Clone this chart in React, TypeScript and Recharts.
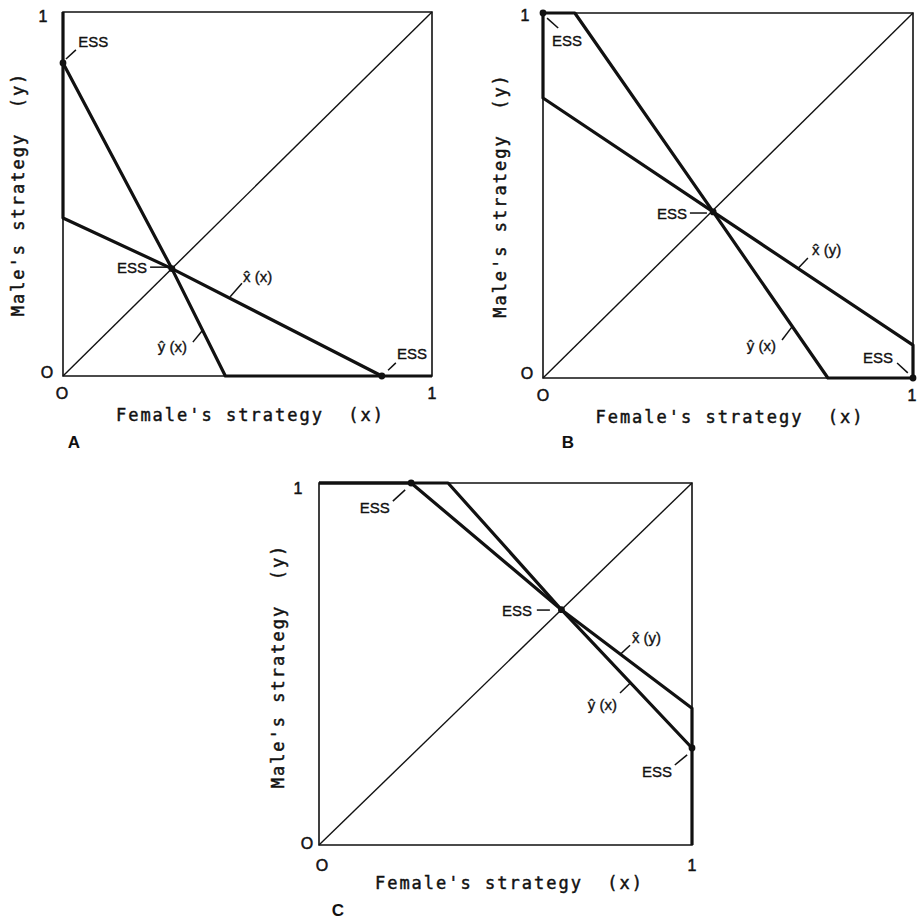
import React from 'react';
import { LineChart, Line, XAxis, YAxis, ReferenceArea, ReferenceLine, ReferenceDot } from 'recharts';

type Pt = { x: number; y: number };
type Note = { x: number; y: number; text: string; anchor: 'start' | 'middle' | 'end' };
type Seg = [Pt, Pt];

// Shared diagonal y = x
const diagonal: Pt[] = [{ x: 0, y: 0 }, { x: 1, y: 1 }];

// ---- Panel A ----
const aFemaleResponse: Pt[] = [{ x: 0, y: 1 }, { x: 0, y: 0.434 }, { x: 0.295, y: 0.295 }, { x: 0.864, y: 0 }];
const aMaleResponse: Pt[] = [{ x: 0, y: 0.86 }, { x: 0.295, y: 0.295 }, { x: 0.44, y: 0 }, { x: 1, y: 0 }];
const aEss: Pt[] = [{ x: 0, y: 0.86 }, { x: 0.295, y: 0.295 }, { x: 0.864, y: 0 }];
const aNotes: Note[] = [
  { x: 0.041, y: 0.918, text: 'ESS', anchor: 'start' },
  { x: 0.228, y: 0.299, text: 'ESS', anchor: 'end' },
  { x: 0.905, y: 0.063, text: 'ESS', anchor: 'start' },
  { x: 0.488, y: 0.272, text: 'x\u0302 (x)', anchor: 'start' },
  { x: 0.257, y: 0.08, text: 'ŷ (x)', anchor: 'start' },
];
const aLeaders: Seg[] = [
  [{ x: 0.008, y: 0.871 }, { x: 0.035, y: 0.896 }],
  [{ x: 0.236, y: 0.299 }, { x: 0.285, y: 0.299 }],
  [{ x: 0.881, y: 0.016 }, { x: 0.902, y: 0.036 }],
  [{ x: 0.453, y: 0.218 }, { x: 0.485, y: 0.255 }],
  [{ x: 0.352, y: 0.093 }, { x: 0.38, y: 0.128 }],
];

// ---- Panel B ----
const bFemaleResponse: Pt[] = [{ x: 0, y: 1 }, { x: 0, y: 0.767 }, { x: 0.46, y: 0.455 }, { x: 1, y: 0.09 }, { x: 1, y: 0 }];
const bMaleResponse: Pt[] = [{ x: 0, y: 1 }, { x: 0.086, y: 1 }, { x: 0.46, y: 0.455 }, { x: 0.77, y: 0 }, { x: 1, y: 0 }];
const bEss: Pt[] = [{ x: 0, y: 1 }, { x: 0.46, y: 0.455 }, { x: 1, y: 0 }];
const bNotes: Note[] = [
  { x: 0.024, y: 0.926, text: 'ESS', anchor: 'start' },
  { x: 0.389, y: 0.452, text: 'ESS', anchor: 'end' },
  { x: 0.727, y: 0.351, text: 'x\u0302 (y)', anchor: 'start' },
  { x: 0.551, y: 0.09, text: 'ŷ (x)', anchor: 'start' },
  { x: 0.865, y: 0.055, text: 'ESS', anchor: 'start' },
];
const bLeaders: Seg[] = [
  [{ x: 0.011, y: 0.986 }, { x: 0.041, y: 0.959 }],
  [{ x: 0.397, y: 0.452 }, { x: 0.443, y: 0.452 }],
  [{ x: 0.689, y: 0.3 }, { x: 0.716, y: 0.329 }],
  [{ x: 0.646, y: 0.104 }, { x: 0.673, y: 0.14 }],
  [{ x: 0.957, y: 0.041 }, { x: 0.986, y: 0.014 }],
];

// ---- Panel C ----
const cFemaleResponse: Pt[] = [{ x: 0, y: 1 }, { x: 0.247, y: 1 }, { x: 0.65, y: 0.65 }, { x: 1, y: 0.378 }, { x: 1, y: 0 }];
const cMaleResponse: Pt[] = [{ x: 0, y: 1 }, { x: 0.346, y: 1 }, { x: 0.65, y: 0.65 }, { x: 1, y: 0.268 }];
const cEss: Pt[] = [{ x: 0.247, y: 1 }, { x: 0.65, y: 0.65 }, { x: 1, y: 0.268 }];
const cNotes: Note[] = [
  { x: 0.19, y: 0.931, text: 'ESS', anchor: 'end' },
  { x: 0.571, y: 0.649, text: 'ESS', anchor: 'end' },
  { x: 0.839, y: 0.572, text: 'x\u0302 (y)', anchor: 'start' },
  { x: 0.799, y: 0.387, text: 'ŷ (x)', anchor: 'end' },
  { x: 0.866, y: 0.202, text: 'ESS', anchor: 'start' },
];
const cLeaders: Seg[] = [
  [{ x: 0.198, y: 0.95 }, { x: 0.231, y: 0.981 }],
  [{ x: 0.584, y: 0.649 }, { x: 0.619, y: 0.649 }],
  [{ x: 0.807, y: 0.526 }, { x: 0.834, y: 0.552 }],
  [{ x: 0.807, y: 0.42 }, { x: 0.834, y: 0.447 }],
  [{ x: 0.954, y: 0.221 }, { x: 0.987, y: 0.249 }],
];

const xTitle = "Female's strategy  (x)";
const yTitle = "Male's strategy  (y)";
const tickZero = 'O';
const tickOne = '1';

const INK = '#111';
const SANS = "'Liberation Sans', Arial, Helvetica, sans-serif";
const MONO = "'DejaVu Sans Mono', 'Liberation Mono', monospace";

type Offset = [number, number];
type Frame = {
  yOne: Offset; yZero: Offset; xZero: Offset; xOne: Offset;
  xTitleAt: Offset; yTitleAt: Offset; letterAt: Offset;
};

type PanelProps = {
  left: number; top: number; width: number; height: number;
  margin: { top: number; right: number; bottom: number; left: number };
  female: Pt[]; male: Pt[]; ess: Pt[]; notes: Note[]; leaders: Seg[];
  letter: string; frame: Frame;
};

const tickStyle = { fontFamily: SANS, fontSize: 16, stroke: INK, strokeWidth: 0.5 };
const titleStyle = { fontFamily: MONO, fontSize: 17, letterSpacing: 2, stroke: INK, strokeWidth: 0.45 };

function textAt(x: number, y: number, str: string, off: Offset, style: any, rotate = false) {
  return (
    <ReferenceDot
      x={x}
      y={y}
      r={0}
      shape={(p: any) => {
        const tx = p.cx + off[0];
        const ty = p.cy + off[1];
        return (
          <text
            x={tx}
            y={ty}
            textAnchor="middle"
            dominantBaseline="central"
            fill={INK}
            transform={rotate ? `rotate(-90 ${tx} ${ty})` : undefined}
            style={{ whiteSpace: 'pre' }}
            {...style}
          >
            {str}
          </text>
        );
      }}
    />
  );
}

function Panel(props: PanelProps) {
  const { left, top, width, height, margin, female, male, ess, notes, leaders, letter, frame } = props;
  return (
    <div style={{ position: 'absolute', left, top, width, height }}>
      <LineChart width={width} height={height} margin={margin}>
        <XAxis type="number" dataKey="x" domain={[0, 1]} hide />
        <YAxis type="number" dataKey="y" domain={[0, 1]} hide />
        <ReferenceArea x1={0} x2={1} y1={0} y2={1} fill="none" stroke={INK} strokeWidth={1.6} />
        <Line data={diagonal} dataKey="y" type="linear" stroke={INK} strokeWidth={1.4} dot={false} isAnimationActive={false} />
        <Line data={female} dataKey="y" type="linear" stroke={INK} strokeWidth={3.2} strokeLinejoin="round" dot={false} isAnimationActive={false} />
        <Line data={male} dataKey="y" type="linear" stroke={INK} strokeWidth={3.2} strokeLinejoin="round" dot={false} isAnimationActive={false} />
        {leaders.map((s, i) => (
          <ReferenceLine key={`l${i}`} segment={s} stroke={INK} strokeWidth={1.5} />
        ))}
        {ess.map((p, i) => (
          <ReferenceDot key={`e${i}`} x={p.x} y={p.y} r={3.4} fill={INK} stroke="none" />
        ))}
        {notes.map((n, i) => (
          <ReferenceDot
            key={`n${i}`}
            x={n.x}
            y={n.y}
            r={0}
            shape={(p: any) => (
              <text
                x={p.cx}
                y={p.cy}
                textAnchor={n.anchor}
                dominantBaseline="central"
                fill={INK}
                stroke={INK}
                strokeWidth={0.35}
                fontFamily={SANS}
                fontSize={15}
              >
                {n.text}
              </text>
            )}
          />
        ))}
        {textAt(0, 1, tickOne, frame.yOne, tickStyle)}
        {textAt(0, 0, tickZero, frame.yZero, tickStyle)}
        {textAt(0, 0, tickZero, frame.xZero, tickStyle)}
        {textAt(1, 0, tickOne, frame.xOne, tickStyle)}
        {textAt(0.5, 0, xTitle, frame.xTitleAt, titleStyle)}
        {textAt(0, 0.5, yTitle, frame.yTitleAt, titleStyle, true)}
        {textAt(0, 0, letter, frame.letterAt, { fontFamily: SANS, fontSize: 17, fontWeight: 'bold' })}
      </LineChart>
    </div>
  );
}

const frameA: Frame = {
  yOne: [-20, 4], yZero: [-16, -4], xZero: [-1, 17], xOne: [0, 17],
  xTitleAt: [3, 39], yTitleAt: [-45, 0], letterAt: [11, 66],
};
const frameB: Frame = {
  yOne: [-18, 2], yZero: [-16, -5], xZero: [0, 17], xOne: [-1, 17],
  xTitleAt: [2, 39], yTitleAt: [-43, 0], letterAt: [25, 64],
};
const frameC: Frame = {
  yOne: [-21, 5], yZero: [-12, -2], xZero: [3, 20], xOne: [0, 20],
  xTitleAt: [4, 38], yTitleAt: [-41, 2], letterAt: [19, 65],
};

export default function App() {
  return (
    <div style={{ position: 'absolute', left: 0, top: 0, width: 918, height: 919, background: '#fff' }}>
      <Panel
        left={0} top={0} width={450} height={460}
        margin={{ top: 12, left: 63, right: 18, bottom: 84 }}
        female={aFemaleResponse} male={aMaleResponse} ess={aEss} notes={aNotes} leaders={aLeaders}
        letter="A" frame={frameA}
      />
      <Panel
        left={470} top={0} width={448} height={460}
        margin={{ top: 13, left: 73, right: 5, bottom: 82 }}
        female={bFemaleResponse} male={bMaleResponse} ess={bEss} notes={bNotes} leaders={bLeaders}
        letter="B" frame={frameB}
      />
      <Panel
        left={240} top={470} width={470} height={449}
        margin={{ top: 13, left: 79, right: 18, bottom: 74 }}
        female={cFemaleResponse} male={cMaleResponse} ess={cEss} notes={cNotes} leaders={cLeaders}
        letter="C" frame={frameC}
      />
    </div>
  );
}
